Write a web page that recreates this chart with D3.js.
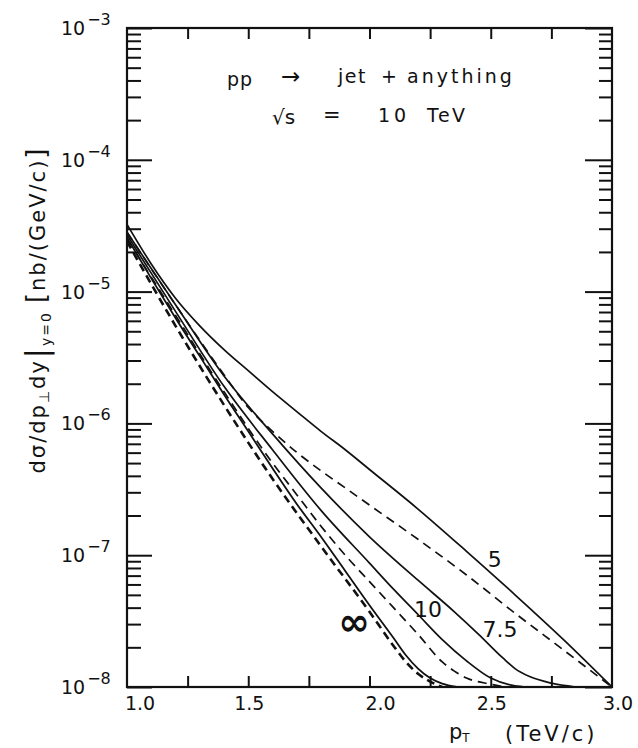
<!DOCTYPE html>
<html lang="en">
<head>
    <meta charset="utf-8">
    <script type="text/javascript" src="https://cdn.jsdelivr.net/npm/d3@7"></script>
    <style>
        body { margin: 0; background: #fff; }
        text { font-family: "DejaVu Sans", sans-serif; fill: #111; }
    </style>
</head>
<body>
<script type="text/javascript">

    //Width and height
    let w = 638;
    let h = 748;

    //Curves (pT in TeV/c, cross section in nb/(GeV/c))
    const pt5 = [1.0, 1.1, 1.2, 1.3, 1.4, 1.5, 1.6, 1.7, 1.8, 1.9, 2.0, 2.2, 2.4, 2.6, 2.8, 3.0];
    const sig5 = [3.24e-5, 1.62e-5, 8.91e-6, 5.50e-6, 3.63e-6, 2.51e-6, 1.74e-6, 1.23e-6, 8.71e-7, 6.31e-7, 4.47e-7, 2.24e-7, 1.07e-7, 5.01e-8, 2.29e-8, 1.0e-8];

    const pt5d = [1.0, 1.2, 1.4, 1.5, 1.6, 1.7, 1.8, 1.9, 2.0, 2.2, 2.4, 2.6, 2.8, 3.0];
    const sig5d = [2.82e-5, 7.94e-6, 2.34e-6, 1.32e-6, 8.71e-7, 6.03e-7, 4.37e-7, 3.24e-7, 2.40e-7, 1.32e-7, 7.08e-8, 3.63e-8, 1.91e-8, 1.0e-8];

    const pt75 = [1.0, 1.2, 1.4, 1.6, 1.8, 2.0, 2.2, 2.35, 2.45, 2.55, 2.6, 2.66, 2.75, 2.85];
    const sig75 = [2.82e-5, 7.94e-6, 2.29e-6, 8.32e-7, 3.24e-7, 1.38e-7, 6.46e-8, 3.72e-8, 2.51e-8, 1.66e-8, 1.38e-8, 1.20e-8, 1.07e-8, 1.0e-8];

    const pt10 = [1.0, 1.2, 1.4, 1.6, 1.8, 2.0, 2.1, 2.2, 2.3, 2.4, 2.5, 2.6, 2.65];
    const sig10 = [2.69e-5, 7.08e-6, 1.91e-6, 6.31e-7, 2.19e-7, 8.71e-8, 5.50e-8, 3.55e-8, 2.29e-8, 1.58e-8, 1.17e-8, 1.02e-8, 1.0e-8];

    const pt10d = [1.0, 1.2, 1.4, 1.6, 1.7, 1.8, 1.9, 2.0, 2.1, 2.2, 2.3, 2.35, 2.4, 2.5, 2.56];
    const sig10d = [2.51e-5, 6.61e-6, 1.74e-6, 5.01e-7, 2.88e-7, 1.66e-7, 1.0e-7, 6.31e-8, 3.98e-8, 2.51e-8, 1.55e-8, 1.32e-8, 1.17e-8, 1.05e-8, 1.0e-8];

    const ptInf = [1.0, 1.1, 1.2, 1.3, 1.4, 1.5, 1.6, 1.7, 1.8, 1.9, 2.0, 2.1, 2.15, 2.2, 2.25, 2.3, 2.36];
    const sigInf = [2.57e-5, 1.26e-5, 6.31e-6, 3.24e-6, 1.66e-6, 8.71e-7, 4.57e-7, 2.45e-7, 1.38e-7, 7.59e-8, 4.17e-8, 2.34e-8, 1.74e-8, 1.38e-8, 1.17e-8, 1.06e-8, 1.0e-8];

    const ptInfd = [1.0, 1.2, 1.4, 1.6, 1.8, 2.0, 2.1, 2.15, 2.2, 2.25, 2.3];
    const sigInfd = [2.40e-5, 5.50e-6, 1.38e-6, 3.80e-7, 1.17e-7, 3.72e-8, 2.04e-8, 1.55e-8, 1.26e-8, 1.10e-8, 1.0e-8];

    //Ticks
    const xMajor = [1.25, 1.5, 1.75, 2.0, 2.25, 2.5, 2.75];
    const xLabels = [1.0, 1.5, 2.0, 2.5, 3.0];
    const xLabelShift = [13, 1, 11, 1, 6];
    const yDecades = [1e-8, 1e-7, 1e-6, 1e-5, 1e-4, 1e-3];
    const yExponents = ["−8", "−7", "−6", "−5", "−4", "−3"];
    const yMinor = [2, 3, 4, 5, 6, 7, 8, 9];

    //Curve labels
    const curveLabels = ["5", "10", "7.5", "∞"];
    const labelPt = [2.517, 2.241, 2.538, 1.936];
    const labelSig = [8.1e-8, 3.4e-8, 2.4e-8, 2.5e-8];

    let pLeft = 127, pRight = 612, pTop = 28, pBottom = 687;

    let x = d3.scaleLinear().domain([1.0, 3.0]).range([pLeft, pRight]);
    let y = d3.scaleLog().domain([1e-8, 1e-3]).range([pBottom, pTop]);

    let svg = d3.select("body")
        .append("svg")
        .attr("width", w)
        .attr("height", h);

    svg.append("clipPath").attr("id", "plot")
        .append("rect")
        .attr("x", pLeft).attr("y", pTop)
        .attr("width", pRight - pLeft).attr("height", pBottom - pTop);

    //Curves
    let line = d3.line()
        .x(d => x(d[0]))
        .y(d => y(d[1]))
        .curve(d3.curveMonotoneX);

    let curves = [
        {pt: pt5, sig: sig5, dash: null, width: 1.7},
        {pt: pt5d, sig: sig5d, dash: "9,6", width: 1.7},
        {pt: pt75, sig: sig75, dash: null, width: 1.7},
        {pt: pt10, sig: sig10, dash: null, width: 1.7},
        {pt: pt10d, sig: sig10d, dash: "9,6", width: 1.7},
        {pt: ptInf, sig: sigInf, dash: null, width: 1.8},
        {pt: ptInfd, sig: sigInfd, dash: "8,5", width: 2.6}
    ];

    svg.append("g")
        .attr("clip-path", "url(#plot)")
        .selectAll("path")
        .data(curves)
        .enter()
        .append("path")
        .attr("d", d => line(d3.zip(d.pt, d.sig)))
        .attr("fill", "none")
        .attr("stroke", "#111")
        .attr("stroke-width", d => d.width)
        .attr("stroke-dasharray", d => d.dash);

    //Minor log ticks
    let minorVals = [];
    yDecades.slice(0, -1).forEach(dec => yMinor.forEach(m => minorVals.push(m * dec)));

    function styleAxis(g) {
        g.select(".domain").remove();
        g.selectAll("line").attr("stroke", "#111").attr("stroke-width", 2);
        g.selectAll("text").remove();
    }

    svg.append("g").attr("transform", `translate(${pLeft},0)`)
        .call(d3.axisLeft(y).tickValues(yDecades).tickSizeInner(-25).tickSizeOuter(0)).call(styleAxis);
    svg.append("g").attr("transform", `translate(${pLeft},0)`)
        .call(d3.axisLeft(y).tickValues(minorVals).tickSizeInner(-14).tickSizeOuter(0)).call(styleAxis);
    svg.append("g").attr("transform", `translate(${pRight},0)`)
        .call(d3.axisRight(y).tickValues(yDecades).tickSizeInner(-27).tickSizeOuter(0)).call(styleAxis);
    svg.append("g").attr("transform", `translate(${pRight},0)`)
        .call(d3.axisRight(y).tickValues(minorVals).tickSizeInner(-13).tickSizeOuter(0)).call(styleAxis);
    svg.append("g").attr("transform", `translate(0,${pBottom})`)
        .call(d3.axisBottom(x).tickValues(xMajor).tickSizeInner(-11).tickSizeOuter(0)).call(styleAxis);
    svg.append("g").attr("transform", `translate(0,${pTop})`)
        .call(d3.axisTop(x).tickValues(xMajor).tickSizeInner(-11).tickSizeOuter(0)).call(styleAxis);

    //Frame
    svg.append("rect")
        .attr("x", pLeft).attr("y", pTop)
        .attr("width", pRight - pLeft).attr("height", pBottom - pTop)
        .attr("fill", "none")
        .attr("stroke", "#111")
        .attr("stroke-width", 2.2);

    //Y tick labels 10^n
    let yl = svg.append("g").selectAll("text")
        .data(yDecades)
        .enter()
        .append("text")
        .attr("x", 61)
        .attr("y", d => y(d) + 7)
        .attr("font-size", 19);
    yl.append("tspan").text("10");
    yl.append("tspan")
        .attr("dx", 2)
        .attr("dy", -10)
        .attr("font-size", 16)
        .text((d, i) => yExponents[i]);

    //X tick labels
    svg.append("g").selectAll("text")
        .data(xLabels)
        .enter()
        .append("text")
        .attr("x", (d, i) => x(d) + xLabelShift[i])
        .attr("y", pBottom + 23)
        .attr("text-anchor", "middle")
        .attr("font-size", 19)
        .text(d => d.toFixed(1));

    //X axis title
    let xt = svg.append("text")
        .attr("x", 449)
        .attr("y", 739)
        .attr("font-size", 21);
    xt.append("tspan").text("p");
    xt.append("tspan").attr("dy", 3).attr("font-size", 12).text("T");
    svg.append("text")
        .attr("x", 505)
        .attr("y", 741)
        .attr("font-size", 21)
        .attr("letter-spacing", 3)
        .text("(TeV/c)");

    //Y axis title
    let yt = svg.append("text")
        .attr("transform", "translate(45,310) rotate(-90)")
        .attr("text-anchor", "middle")
        .attr("font-size", 21)
        .attr("letter-spacing", 2);
    yt.append("tspan").text("dσ/dp");
    yt.append("tspan").attr("dy", 4).attr("font-size", 14).text("⊥");
    yt.append("tspan").attr("dy", -4).text("dy");
    yt.append("tspan").attr("dx", 1).attr("font-size", 30).attr("dy", 2).text("|");
    yt.append("tspan").attr("dy", 4).attr("font-size", 14).text("y=0");
    yt.append("tspan").attr("dy", -6).attr("dx", 8).attr("font-size", 26).text("[");
    yt.append("tspan").attr("font-size", 21).text("nb/(GeV/c)");
    yt.append("tspan").attr("font-size", 26).text("]");

    //Process text
    let ann = svg.append("g").attr("font-size", 19);
    ann.append("text").attr("x", 227).attr("y", 86).attr("letter-spacing", 1).text("pp");
    ann.append("text").attr("x", 281).attr("y", 84).attr("font-size", 23).text("→");
    ann.append("text").attr("x", 338).attr("y", 83).attr("letter-spacing", 1.5).text("jet");
    ann.append("text").attr("x", 381).attr("y", 83).text("+");
    ann.append("text").attr("x", 407).attr("y", 83).attr("letter-spacing", 3).text("anything");
    ann.append("text").attr("x", 272).attr("y", 124).attr("font-size", 20).text("√s");
    ann.append("text").attr("x", 323).attr("y", 122).attr("font-size", 21).text("=");
    ann.append("text").attr("x", 378).attr("y", 122).attr("letter-spacing", 4).text("10");
    ann.append("text").attr("x", 427).attr("y", 122).attr("letter-spacing", 2.5).text("TeV");

    //Curve labels
    svg.append("g").selectAll("text")
        .data(curveLabels)
        .enter()
        .append("text")
        .attr("x", (d, i) => x(labelPt[i]))
        .attr("y", (d, i) => y(labelSig[i]))
        .attr("text-anchor", "middle")
        .attr("font-size", (d, i) => i === 3 ? 38 : 22)
        .attr("font-weight", (d, i) => i === 3 ? "bold" : "normal")
        .text(d => d);

</script>
</body>
</html>
